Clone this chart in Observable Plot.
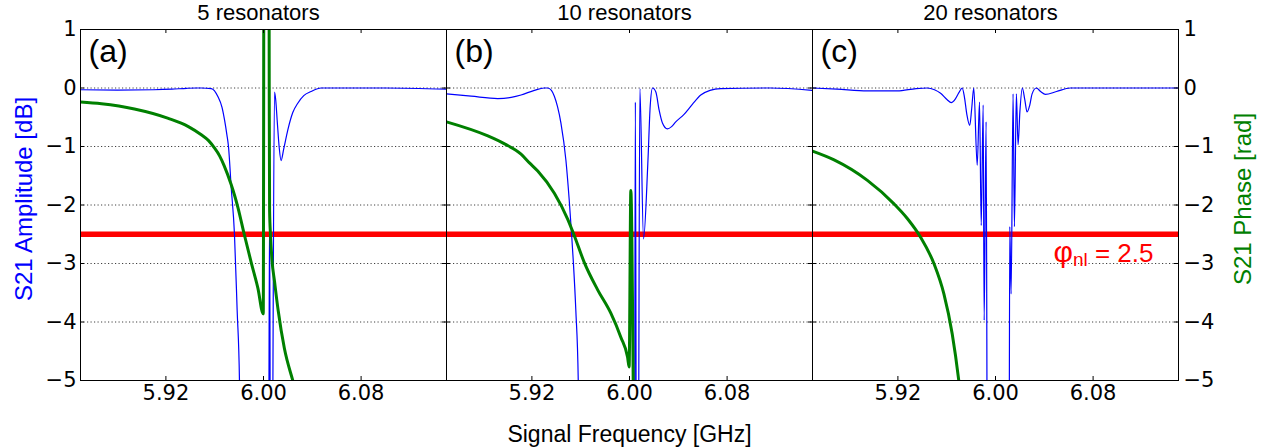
<!DOCTYPE html>
<html><head><meta charset="utf-8">
<script src="https://cdn.jsdelivr.net/npm/d3@7"></script>
<script src="https://cdn.jsdelivr.net/npm/@observablehq/plot@0.6"></script>
<style>body{margin:0;background:#fff;}</style>
</head><body><div id="chart"></div>
<script>
const panels = ["5 resonators", "10 resonators", "20 resonators"];
const panelLetters = ["(a)", "(b)", "(c)"];
const xTicks = [5.92, 6.00, 6.08];
const yTicks = [1, 0, -1, -2, -3, -4, -5];
const gridTicks = [0, -1, -2, -3, -4];
const nlPhase = 2.5;
const xLabel = "Signal Frequency [GHz]";
const yLabelLeft = "S21 Amplitude [dB]";
const yLabelRight = "S21 Phase [rad]";

// S21 amplitude [dB], panel (a)
const ampA = [[5.850,-0.03],[5.880,-0.035],[5.910,-0.03],[5.925,-0.02],[5.937,-0.005],[5.945,0.0],[5.949,0.0],[5.9572,-0.01],[5.9627,-0.15],[5.9660,-0.33],[5.9681,-0.55],[5.9700,-0.8],[5.9713,-1.0],[5.9735,-1.69],[5.9762,-2.5],[5.9784,-3.8],[5.9803,-5.0],[5.9815,-8],[6.0040,-8],[6.0050,-2.0],[6.0058,-8],[6.0068,-8],[6.0090,-0.07],[6.0100,-0.2],[6.0112,-0.55],[6.0128,-1.0],[6.0144,-1.24],[6.0165,-1.05],[6.0199,-0.72],[6.0240,-0.42],[6.0281,-0.26],[6.0330,-0.13],[6.0390,-0.06],[6.0472,0.0],[6.1000,0.0],[6.1500,-0.02]];
// S21 phase [rad], panel (a)
const phaseA = [[5.850,-0.24],[5.8672,-0.27],[5.8942,-0.36],[5.9220,-0.52],[5.9384,-0.66],[5.9490,-0.8],[5.9550,-0.9],[5.9596,-1.02],[5.9640,-1.16],[5.9678,-1.33],[5.9735,-1.65],[5.9765,-1.85],[5.9790,-2.04],[5.9842,-2.5],[5.9899,-2.98],[5.9954,-3.42],[5.9998,-3.86],[6.0006,6],[6.0042,6],[6.0047,0],[6.0050,-2.1],[6.0057,-2.5],[6.0070,-2.95],[6.0090,-3.3],[6.0120,-3.8],[6.0171,-4.45],[6.0240,-5.0],[6.0308,-5.5],[6.0400,-6.0]];
// panel (b)
const ampB = [[5.850,-0.1],[5.8702,-0.14],[5.8920,-0.18],[5.9030,-0.16],[5.9111,-0.12],[5.9220,-0.04],[5.9300,0.0],[5.9330,0.0],[5.9360,-0.04],[5.9384,-0.14],[5.9410,-0.32],[5.9438,-0.6],[5.9479,-1.24],[5.9506,-1.92],[5.9526,-2.52],[5.9539,-2.95],[5.9560,-3.8],[5.9580,-5.0],[5.9595,-8],[6.0040,-8],[6.0048,-0.24],[6.0058,-8],[6.0070,-8],[6.0085,-0.01],[6.0115,-2.58],[6.0150,-1.3],[6.0170,-0.3],[6.0189,0.0],[6.0216,-0.07],[6.0243,-0.38],[6.0270,-0.6],[6.0311,-0.7],[6.0345,-0.66],[6.0379,-0.58],[6.0447,-0.45],[6.0515,-0.28],[6.0584,-0.12],[6.0660,-0.04],[6.0747,-0.01],[6.1156,0.0],[6.1500,-0.04]];
const phaseB = [[5.850,-0.58],[5.8839,-0.82],[5.8980,-0.96],[5.9111,-1.13],[5.9180,-1.28],[5.9248,-1.42],[5.9384,-1.8],[5.9493,-2.24],[5.9547,-2.52],[5.9629,-2.98],[5.9739,-3.45],[5.9847,-3.85],[5.9929,-4.26],[5.9984,-4.6],[5.9997,-4.77],[6.0011,-1.75],[6.0035,-6],[6.0045,-8]];
// panel (c)
const ampC = [[5.850,0.0],[5.870,-0.02],[5.895,-0.05],[5.9195,-0.05],[5.935,-0.01],[5.9441,0.0],[5.9500,-0.03],[5.9550,-0.09],[5.9604,-0.2],[5.9637,-0.25],[5.9670,-0.19],[5.9700,-0.08],[5.9727,0.0],[5.9745,-0.15],[5.9765,-0.45],[5.9789,-0.64],[5.9805,-0.35],[5.9822,0.0],[5.9850,-1.32],[5.9869,-0.24],[5.9883,-2.35],[5.9899,-0.29],[5.9907,-3.97],[5.9923,-0.58],[5.9935,-8],[6.0110,-8],[6.0117,-2.37],[6.0128,-3.52],[6.0144,-0.1],[6.0155,-2.37],[6.0171,-0.1],[6.0185,-0.97],[6.0200,-0.4],[6.0220,0.0],[6.0240,-0.2],[6.0259,-0.41],[6.0280,-0.3],[6.0300,-0.1],[6.0335,0.0],[6.0370,-0.06],[6.0409,-0.11],[6.0500,-0.06],[6.0613,0.0],[6.1500,0.0]];
const phaseC = [[5.850,-1.08],[5.8677,-1.23],[5.8950,-1.58],[5.9168,-1.98],[5.9277,-2.23],[5.9386,-2.55],[5.9495,-3.0],[5.9577,-3.52],[5.9645,-4.2],[5.9699,-5.0],[5.9740,-5.8]];

const toRows = (pts, panel) => pts.map(([x, y]) => ({panel, x, y}));
const ampRows = [...toRows(ampA, panels[0]), ...toRows(ampB, panels[1]), ...toRows(ampC, panels[2])];
const phaseRows = [...toRows(phaseA, panels[0]), ...toRows(phaseB, panels[1]), ...toRows(phaseC, panels[2])];

const fmtY = d => d < 0 ? "\u2212" + Math.abs(d) : String(d);
const sans = "'Liberation Sans', Arial, Helvetica, sans-serif";
const phiText = "\u03c6nl = " + nlPhase;

const svg = Plot.plot({
  width: 1266,
  height: 448,
  marginLeft: 79,
  marginRight: 88,
  marginTop: 29,
  marginBottom: 68,
  style: {fontFamily: "'DejaVu Sans', sans-serif", fontSize: "20px", background: "white", color: "black"},
  fx: {domain: panels, padding: 0, axis: null},
  x: {domain: [5.85, 6.15]},
  y: {domain: [-5, 1]},
  marks: [
    Plot.ruleY(gridTicks, {stroke: "#000", strokeOpacity: 0.75, strokeDasharray: "1.2,2.3", strokeWidth: 1}),
    Plot.ruleY([-nlPhase], {stroke: "#ff0000", strokeWidth: 5.5}),
    Plot.line(ampRows, {x: "x", y: "y", fx: "panel", z: "panel", stroke: "#0000ff", strokeWidth: 1.2, curve: "monotone-x", clip: true}),
    Plot.line(phaseRows, {x: "x", y: "y", fx: "panel", z: "panel", stroke: "#008000", strokeWidth: 3, curve: "monotone-x", clip: true}),
    Plot.frame({stroke: "black", strokeWidth: 1}),
    Plot.tickX(xTicks, {x: d => d, insetTop: 347, stroke: "black"}),
    Plot.tickX(xTicks, {x: d => d, insetBottom: 347, stroke: "black"}),
    Plot.tickY(yTicks, {y: d => d, insetRight: 362, stroke: "black"}),
    Plot.tickY(yTicks, {y: d => d, insetLeft: 362, stroke: "black"}),
    Plot.axisY(yTicks, {anchor: "left", tickSize: 0, tickPadding: 4, tickFormat: fmtY, label: null, fontSize: 21}),
    Plot.axisY(yTicks, {anchor: "right", tickSize: 0, tickPadding: 5, tickFormat: fmtY, label: null, fontSize: 21}),
    Plot.axisX(xTicks, {anchor: "bottom", tickSize: 0, tickPadding: 5, tickFormat: d => d.toFixed(2), label: null, fontSize: 21}),
    Plot.text(panels, {fx: d => d, text: d => d, frameAnchor: "top", lineAnchor: "bottom", dy: -10, dx: -5, fontSize: 22, fontFamily: sans, fill: "black"}),
    Plot.text(panels, {fx: d => d, text: (d, i) => panelLetters[i], frameAnchor: "top-left", textAnchor: "start", lineAnchor: "bottom", dx: 8, dy: 32, fontSize: 32, fontFamily: sans, fill: "black"}),
    Plot.text([{panel: panels[1]}], {fx: "panel", text: () => xLabel, frameAnchor: "bottom", lineAnchor: "bottom", dy: 61, fontSize: 23, fontFamily: sans, fill: "black"}),
    Plot.text([{panel: panels[0]}], {fx: "panel", text: () => yLabelLeft, frameAnchor: "left", textAnchor: "middle", rotate: -90, lineAnchor: "bottom", dx: -49, dy: -6, fontSize: 24, fontFamily: sans, fill: "#0000ff"}),
    Plot.text([{panel: panels[2]}], {fx: "panel", text: () => yLabelRight, frameAnchor: "right", textAnchor: "middle", rotate: -90, lineAnchor: "bottom", dx: 72, dy: -6, fontSize: 24, fontFamily: sans, fill: "#008000"}),
    Plot.text([{panel: panels[2], v: -nlPhase}], {fx: "panel", y: "v", text: () => phiText, frameAnchor: "right", textAnchor: "end", lineAnchor: "bottom", dx: -25, dy: 28, fontSize: 26, fontFamily: sans, fill: "#ff0000"})
  ]
});
document.getElementById("chart").append(svg);

d3.select(svg).selectAll("text").filter(function () { return this.textContent === phiText; }).each(function () {
  const t = d3.select(this);
  t.text(null);
  t.append("tspan").attr("font-size", 30).text("\u03c6");
  t.append("tspan").attr("dy", 4).attr("font-size", 19).text("nl");
  t.append("tspan").attr("dy", -4).text(" = " + nlPhase);
});
</script>
</body></html>
